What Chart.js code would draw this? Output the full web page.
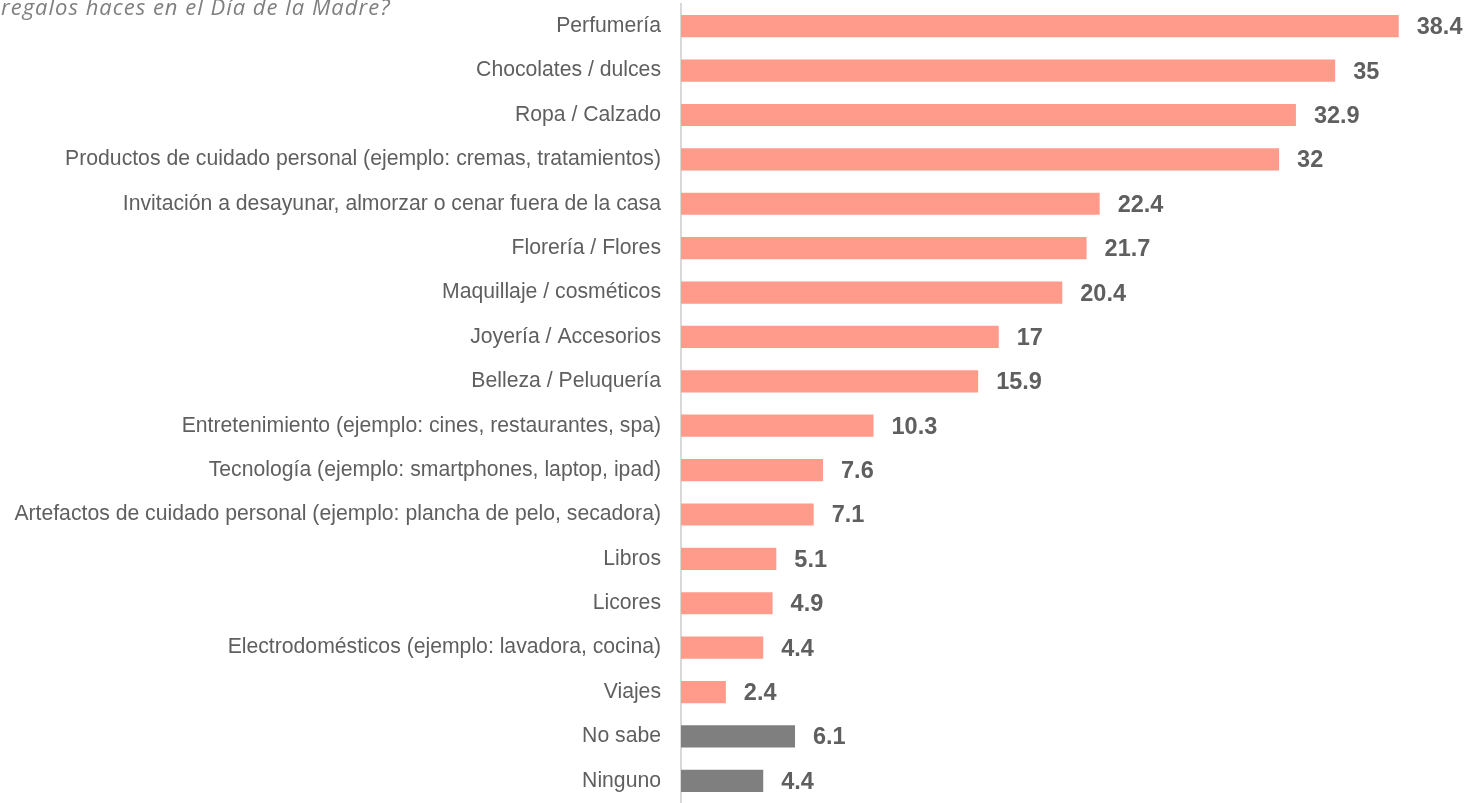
<!DOCTYPE html>
<html>
<head>
<meta charset="utf-8">
<script src="https://cdn.jsdelivr.net/npm/chart.js@4/dist/chart.umd.min.js"></script>
<style>
html,body{margin:0;padding:0;background:#fff;}
#wrap{width:1468px;height:803px;position:relative;}
</style>
</head>
<body>
<div id="wrap"><canvas id="c" width="1468" height="803"></canvas></div>
<script>
const titleText = "regalos haces en el Día de la Madre?";
const categories = [
  "Perfumería",
  "Chocolates / dulces",
  "Ropa / Calzado",
  "Productos de cuidado personal (ejemplo: cremas, tratamientos)",
  "Invitación a desayunar, almorzar o cenar fuera de la casa",
  "Florería / Flores",
  "Maquillaje / cosméticos",
  "Joyería / Accesorios",
  "Belleza / Peluquería",
  "Entretenimiento (ejemplo: cines, restaurantes, spa)",
  "Tecnología (ejemplo: smartphones, laptop, ipad)",
  "Artefactos de cuidado personal (ejemplo: plancha de pelo, secadora)",
  "Libros",
  "Licores",
  "Electrodomésticos (ejemplo: lavadora, cocina)",
  "Viajes",
  "No sabe",
  "Ninguno"
];
const values = [38.4, 35, 32.9, 32, 22.4, 21.7, 20.4, 17, 15.9, 10.3, 7.6, 7.1, 5.1, 4.9, 4.4, 2.4, 6.1, 4.4];
const valueLabels = ["38.4","35","32.9","32","22.4","21.7","20.4","17","15.9","10.3","7.6","7.1","5.1","4.9","4.4","2.4","6.1","4.4"];
const barColors = categories.map(c => (c === "No sabe" || c === "Ninguno") ? "#7F7F7F" : "#FF9B8A");

const labelPlugin = {
  id: 'valueLabels',
  afterDatasetsDraw(chart) {
    const ctx = chart.ctx;
    const meta = chart.getDatasetMeta(0);
    ctx.save();
    ctx.font = "bold 23.5px 'Liberation Sans', Arial, sans-serif";
    ctx.fillStyle = "#5F5F5F";
    ctx.textAlign = "left";
    ctx.textBaseline = "middle";
    meta.data.forEach((bar, i) => {
      ctx.fillText(valueLabels[i], bar.x + 18, bar.y + 1.5);
    });
    ctx.restore();
  }
};

const titlePlugin = {
  id: 'cutTitle',
  afterDraw(chart) {
    const ctx = chart.ctx;
    ctx.save();
    ctx.font = "italic 22px 'Open Sans', sans-serif";
    try { ctx.letterSpacing = "1px"; } catch (e) {}
    ctx.fillStyle = "#7F7F7F";
    ctx.textAlign = "left";
    ctx.textBaseline = "alphabetic";
    ctx.fillText(titleText, 1, 15);
    ctx.restore();
  }
};

new Chart(document.getElementById('c'), {
  type: 'bar',
  data: {
    labels: categories,
    datasets: [{
      data: values,
      backgroundColor: barColors,
      borderWidth: 0,
      barPercentage: 0.5,
      categoryPercentage: 1.0
    }]
  },
  options: {
    indexAxis: 'y',
    responsive: false,
    animation: false,
    layout: { padding: { top: 4, right: 2, bottom: 0, left: 0 } },
    plugins: { legend: { display: false }, tooltip: { enabled: false }, title: { display: false } },
    scales: {
      x: { display: false, min: 0, max: 42 },
      y: {
        afterFit(scale) { scale.width = 681; scale.paddingTop = 0; scale.paddingBottom = 0; },
        grid: { display: false },
        border: { display: true, color: "#D9D9D9", width: 2 },
        ticks: {
          padding: 12,
          color: "#5F5F5F",
          font: { family: "'Liberation Sans', Arial, sans-serif", size: 21.2 },
          autoSkip: false
        }
      }
    }
  },
  plugins: [labelPlugin, titlePlugin]
});
</script>
</body>
</html>
